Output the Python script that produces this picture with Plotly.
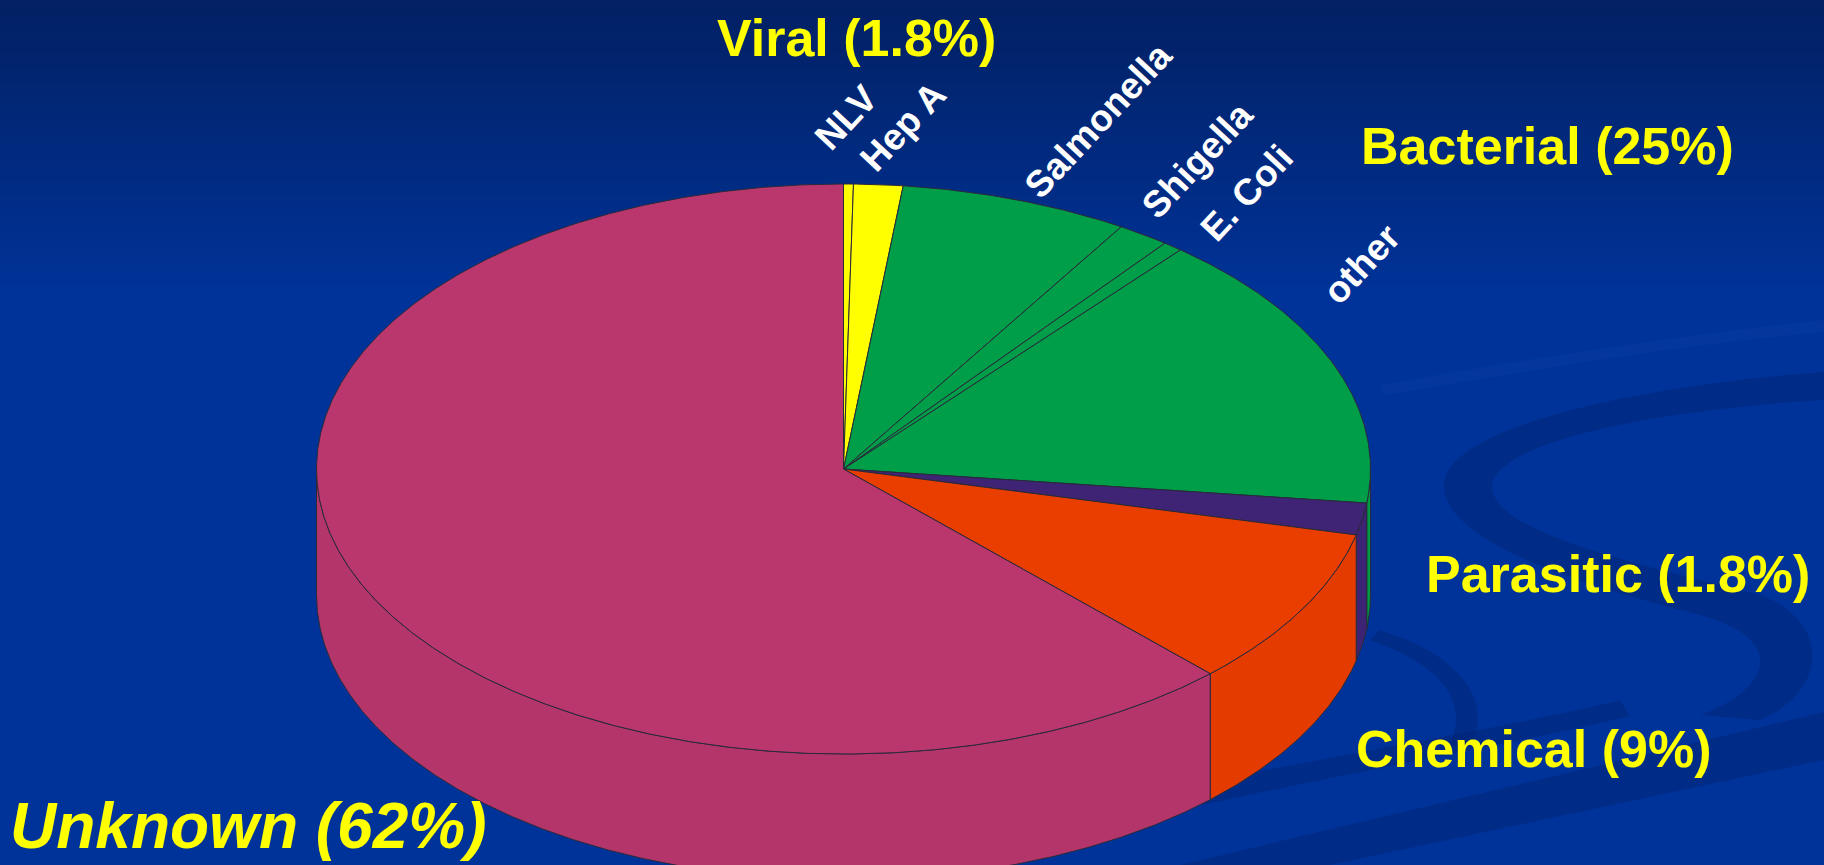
import numpy as np
import plotly.graph_objects as go

# ---- data -------------------------------------------------------------
slice_names = ["NLV", "Hep A", "Salmonella", "Shigella", "E. Coli", "other",
               "Parasitic", "Chemical", "Unknown"]
slice_values = [0.3, 1.5, 7.0, 1.6, 0.6, 15.8, 1.8, 9.0, 62.0]
slice_colors = ["#FFFF00", "#FFFF00", "#009E49", "#009E49", "#009E49", "#009E49",
                "#3F2476", "#EA3D00", "#B9376D"]

group_labels = ["Viral (1.8%)", "Bacterial (25%)", "Parasitic (1.8%)",
                "Chemical (9%)", "Unknown (62%)"]
group_label_pos = [(856, 38), (1547, 146), (1618, 574), (1533, 749), (248, 826)]

sub_labels = ["NLV", "Hep A", "Salmonella", "Shigella", "E. Coli", "other"]
sub_label_pos = [(846, 117), (903, 126), (1098, 120), (1197, 160), (1246, 193), (1361, 264)]

# ---- figure geometry (pixel space) -----------------------------------
W, H = 1824, 865
CX, CY = 843.5, 469.0      # centre of the top face
RX, RY = 527.0, 285.0      # radii of the top ellipse
DEPTH = 126.0              # thickness of the disc


def shade(hex_color, k):
    h = hex_color.lstrip("#")
    r, g, b = (int(h[i:i + 2], 16) for i in (0, 2, 4))
    return "#%02X%02X%02X" % (int(r * k), int(g * k), int(b * k))


def ellipse_pts(t, dy=0.0):
    return CX + RX * np.sin(t), CY - RY * np.cos(t) + dy


fig = go.Figure()

total = float(sum(slice_values))
bounds = np.concatenate([[0.0], np.cumsum(slice_values) / total]) * 2 * np.pi

edge = dict(color="#2A2A3A", width=1)

# side walls (only the front half of the disc is visible)
for i, c in enumerate(slice_colors):
    a, b = bounds[i], bounds[i + 1]
    lo, hi = max(a, np.pi / 2), min(b, 3 * np.pi / 2)
    if hi <= lo:
        continue
    t = np.linspace(lo, hi, max(4, int((hi - lo) * 180)))
    xt, yt = ellipse_pts(t)
    xb, yb = ellipse_pts(t[::-1], DEPTH)
    xs = np.concatenate([xt, xb, xt[:1]])
    ys = np.concatenate([yt, yb, yt[:1]])
    fig.add_trace(go.Scatter(x=xs, y=ys, mode="lines", fill="toself",
                             fillcolor=shade(c, 0.975), line=edge,
                             hoverinfo="skip", showlegend=False))

# top faces
for i, c in enumerate(slice_colors):
    a, b = bounds[i], bounds[i + 1]
    t = np.linspace(a, b, max(3, int((b - a) * 180)))
    xa, ya = ellipse_pts(t)
    xs = np.concatenate([[CX], xa, [CX]])
    ys = np.concatenate([[CY], ya, [CY]])
    fig.add_trace(go.Scatter(x=xs, y=ys, mode="lines", fill="toself",
                             fillcolor=c, line=edge, name=slice_names[i],
                             hoverinfo="name", showlegend=False))

# ---- background: vertical gradient plus soft swooshes ----------------
shapes = []
top_rgb = np.array([3, 33, 100])
mid_rgb = np.array([0, 51, 153])
n_steps = 40
g_end = 300
for k in range(n_steps):
    y0 = g_end * k / n_steps
    y1 = g_end * (k + 1) / n_steps + 1
    f = k / (n_steps - 1)
    col = top_rgb + (mid_rgb - top_rgb) * f
    shapes.append(dict(type="rect", xref="x", yref="y", x0=0, x1=W, y0=y0, y1=y1,
                       line=dict(width=0), fillcolor="rgb(%d,%d,%d)" % tuple(col),
                       layer="below"))
shapes.append(dict(type="rect", xref="x", yref="y", x0=0, x1=W, y0=g_end, y1=H,
                   line=dict(width=0), fillcolor="rgb(0,51,153)", layer="below"))

dark = "rgba(0,30,100,0.3)"
light = "rgba(20,70,170,0.22)"
swooshes = [
    # large curled band on the right
    ("M 1824 372 C 1640 385 1460 425 1445 478 C 1432 535 1560 580 1700 615 "
     "C 1790 640 1770 690 1700 715 L 1760 720 C 1830 690 1830 620 1760 595 "
     "C 1620 560 1490 530 1492 485 C 1500 440 1660 410 1824 400 Z", dark),
    # lower diagonal bands
    ("M 1180 865 L 1824 712 L 1824 760 L 1330 865 Z", dark),
    ("M 1120 800 C 1300 760 1500 730 1620 700 L 1630 716 C 1500 748 1300 780 1140 820 Z", dark),
    # thin light stripe in the upper right
    ("M 1380 385 C 1520 360 1680 335 1824 320 L 1824 332 C 1680 345 1520 372 1385 395 Z", light),
    # curl near the bottom of the disc
    ("M 1370 640 C 1440 665 1470 700 1450 745 L 1470 748 C 1495 700 1460 655 1380 630 Z", dark),
]
for path, col in swooshes:
    shapes.append(dict(type="path", path=path, xref="x", yref="y",
                       fillcolor=col, line=dict(width=0), layer="below"))

# ---- labels -----------------------------------------------------------
annotations = []
for txt, (x, y) in zip(group_labels, group_label_pos):
    italic = txt.startswith("Unknown")
    annotations.append(dict(
        x=x, y=y, xref="x", yref="y", showarrow=False,
        text=("<i><b>%s</b></i>" if italic else "<b>%s</b>") % txt,
        font=dict(family="Liberation Sans, Arial, sans-serif",
                  size=64 if italic else 52, color="#FFFF00"),
        xanchor="center", yanchor="middle"))

for txt, (x, y) in zip(sub_labels, sub_label_pos):
    annotations.append(dict(
        x=x, y=y, xref="x", yref="y", showarrow=False, text="<b>%s</b>" % txt,
        textangle=-47,
        font=dict(family="Liberation Sans, Arial, sans-serif", size=37, color="#FFFFFF"),
        xanchor="center", yanchor="middle"))

fig.update_layout(
    width=W, height=H, autosize=False,
    margin=dict(l=0, r=0, t=0, b=0, pad=0),
    paper_bgcolor="rgb(0,51,153)", plot_bgcolor="rgba(0,0,0,0)",
    xaxis=dict(range=[0, W], visible=False, fixedrange=True),
    yaxis=dict(range=[H, 0], visible=False, fixedrange=True),
    shapes=shapes, annotations=annotations,
)

fig.write_html("out.html", include_plotlyjs=True, config={"displayModeBar": False})
